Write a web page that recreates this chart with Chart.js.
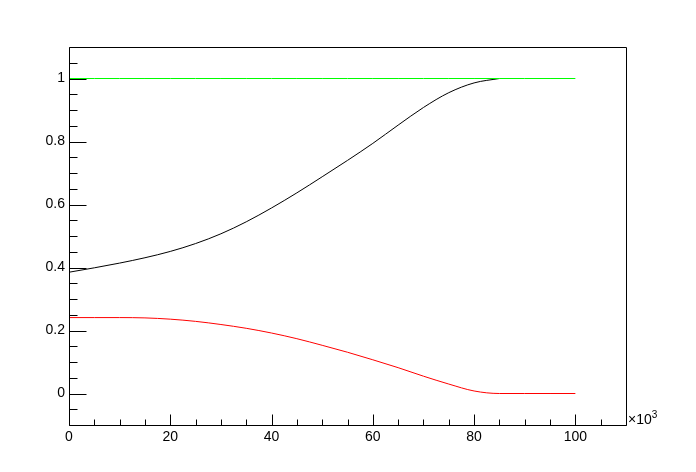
<!DOCTYPE html>
<html>
<head>
<meta charset="utf-8">
<script src="https://cdn.jsdelivr.net/npm/chart.js@4"></script>
<style>
html,body{margin:0;padding:0;background:#fff;}
#wrap{width:696px;height:472px;}
</style>
</head>
<body>
<div id="wrap"><canvas id="c" width="696" height="472"></canvas></div>
<script>
// x positions in units of 10^3
const xValues = [0,5,10,15,20,25,30,35,40,45,50,55,60,65,70,75,80,85,90,95,100];
const blackValues = [0.385,0.399,0.414,0.431,0.451,0.476,0.507,0.545,0.589,0.637,0.688,0.740,0.794,0.852,0.908,0.955,0.986,1.0];
const redValues = [0.241,0.241,0.241,0.240,0.236,0.229,0.219,0.207,0.192,0.174,0.153,0.131,0.107,0.082,0.055,0.030,0.008,0.0,0.0,0.0,0.0];
const greenValues = [1,1,1,1,1,1,1,1,1,1,1,1,1,1,1,1,1,1,1,1,1];
const xTickLabels = [0,20,40,60,80,100];
const yTickLabels = [0,0.2,0.4,0.6,0.8,1];
const xMinorTicks = [0,5,10,15,20,25,30,35,40,45,50,55,60,65,70,75,80,85,90,95,100,105,110];
const yMinorTicks = [-0.1,-0.05,0,0.05,0.1,0.15,0.2,0.25,0.3,0.35,0.4,0.45,0.5,0.55,0.6,0.65,0.7,0.75,0.8,0.85,0.9,0.95,1,1.05,1.1];

function pts(vals){ return vals.map((v,i)=>({x:xValues[i], y:v})); }

const FONT = "Liberation Sans, Arial, Helvetica, sans-serif";

const framePlugin = {
  id:'frame',
  afterDraw(chart){
    const ctx = chart.ctx, a = chart.chartArea;
    const xs = chart.scales.x, ys = chart.scales.y;
    ctx.save();
    ctx.strokeStyle = '#000';
    ctx.lineWidth = 1;
    ctx.beginPath();
    ctx.rect(Math.round(a.left)+0.5, Math.round(a.top)+0.5, Math.round(a.right-a.left), Math.round(a.bottom-a.top));
    ctx.stroke();
    const bottom = Math.round(a.bottom)+0.5, left = Math.round(a.left)+0.5;
    ctx.beginPath();
    xMinorTicks.forEach(v=>{
      const px = Math.round(xs.getPixelForValue(v))+0.5;
      const major = xTickLabels.includes(v);
      ctx.moveTo(px, bottom); ctx.lineTo(px, bottom - (major?11:6));
    });
    yMinorTicks.forEach(v=>{
      const py = Math.round(ys.getPixelForValue(v))+0.5;
      const major = yTickLabels.some(t=>Math.abs(t-v)<1e-9);
      ctx.moveTo(left, py); ctx.lineTo(left + (major?17:8), py);
    });
    ctx.stroke();
    // exponent label
    ctx.fillStyle = '#000';
    ctx.textBaseline = 'alphabetic';
    ctx.textAlign = 'left';
    ctx.font = '14px ' + FONT;
    const ex = Math.round(a.right)+2;
    ctx.fillText('\u00d710', ex, Math.round(a.bottom)-1);
    const w = ctx.measureText('\u00d710').width;
    ctx.font = '10px ' + FONT;
    ctx.fillText('3', ex + w, Math.round(a.bottom)-7);
    ctx.restore();
  }
};

new Chart(document.getElementById('c'), {
  type:'line',
  data:{
    datasets:[
      {data:pts(greenValues), borderColor:'#00ff00', borderWidth:1, pointRadius:0, fill:false, tension:0},
      {data:pts(redValues), borderColor:'#ff0000', borderWidth:1, pointRadius:0, fill:false, cubicInterpolationMode:'monotone'},
      {data:pts(blackValues), borderColor:'#000000', borderWidth:1, pointRadius:0, fill:false, cubicInterpolationMode:'monotone'}
    ]
  },
  options:{
    responsive:false,
    animation:false,
    devicePixelRatio:1,
    layout:{padding:{top:47,right:70,left:0,bottom:0}},
    plugins:{legend:{display:false}, tooltip:{enabled:false}},
    scales:{
      x:{
        type:'linear', min:0, max:110,
        grid:{display:false, drawTicks:false},
        border:{display:false},
        afterBuildTicks(s){ s.ticks = xTickLabels.map(v=>({value:v})); },
        afterFit(s){ s.height = 47; },
        ticks:{color:'#000', font:{family:FONT, size:14}, padding:4, maxRotation:0, autoSkip:false, callback:v=>String(v)}
      },
      y:{
        type:'linear', min:-0.1, max:1.1,
        grid:{display:false, drawTicks:false},
        border:{display:false},
        afterBuildTicks(s){ s.ticks = yTickLabels.map(v=>({value:v})); },
        afterFit(s){ s.width = 69; },
        ticks:{color:'#000', font:{family:FONT, size:14}, padding:4, autoSkip:false, callback:v=>String(Math.round(v*10)/10)}
      }
    }
  },
  plugins:[framePlugin]
});
</script>
</body>
</html>
